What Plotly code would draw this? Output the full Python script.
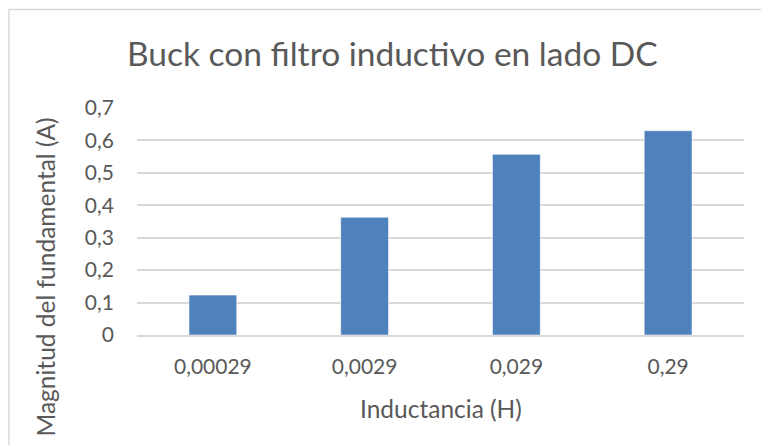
import plotly.graph_objects as go

# Inductance values (category labels) and fundamental current magnitude
inductancias = ["0,00029", "0,0029", "0,029", "0,29"]
magnitudes = [0.123, 0.363, 0.557, 0.630]

y_ticks = [0, 0.1, 0.2, 0.3, 0.4, 0.5, 0.6, 0.7]

W, H = 761, 445
L, R, T, B = 137, 17, 108, 110
pw, ph = W - L - R, H - T - B


def px(x):
    return (x - L) / pw


def py(y):
    return (H - B - y) / ph


FONT = "Lato"
TXT = "#595959"

fig = go.Figure(
    go.Bar(
        x=inductancias,
        y=magnitudes,
        marker=dict(color="#4f81bd", line=dict(color="rgba(255,255,255,0.55)", width=1)),
        hoverinfo="x+y",
    )
)

fig.update_layout(
    width=W,
    height=H,
    margin=dict(l=L, r=R, t=T, b=B),
    paper_bgcolor="white",
    plot_bgcolor="white",
    separators=",.",
    bargap=0.685,
    showlegend=False,
    font=dict(family=FONT, color=TXT),
    xaxis=dict(
        type="category",
        showgrid=False,
        showline=True,
        linecolor="#d9d9d9",
        linewidth=1.5,
        tickfont=dict(size=21, color=TXT),
        ticks="",
        ticklabelstandoff=12,
    ),
    yaxis=dict(
        range=[0, 0.7],
        tickvals=y_ticks,
        showgrid=True,
        gridcolor="#d9d9d9",
        gridwidth=1.5,
        zeroline=False,
        showline=False,
        tickfont=dict(size=21, color=TXT),
        ticks="",
        ticklabelstandoff=22,
    ),
    shapes=[
        dict(
            type="rect", xref="paper", yref="paper",
            x0=px(9), x1=px(790), y0=py(480), y1=py(9.5),
            line=dict(color="#d9d9d9", width=1.5), fillcolor="rgba(0,0,0,0)",
            layer="below",
        )
    ],
    annotations=[
        dict(
            text="Buck con filtro inductivo en lado DC",
            xref="paper", yref="paper", x=px(392), y=py(53),
            showarrow=False, xanchor="center", yanchor="middle",
            font=dict(size=33.5, color=TXT, family=FONT),
        ),
        dict(
            text="Magnitud del fundamental (A)",
            xref="paper", yref="paper", x=px(45), y=py(116),
            showarrow=False, xanchor="center", yanchor="top",
            textangle=-90,
            font=dict(size=24.5, color=TXT, family=FONT),
        ),
        dict(
            text="Inductancia (H)",
            xref="paper", yref="paper", x=px(441), y=py(408),
            showarrow=False, xanchor="center", yanchor="middle",
            font=dict(size=24.5, color=TXT, family=FONT),
        ),
    ],
)

fig.write_html("out.html")
